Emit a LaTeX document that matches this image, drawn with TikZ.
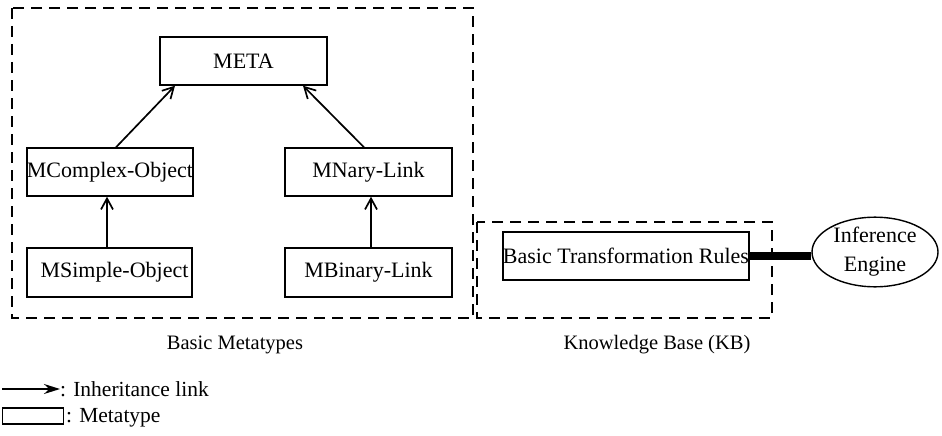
\documentclass[tikz,border=0pt]{standalone}
\usepackage{fontspec}
\setmainfont{Liberation Serif}
\usetikzlibrary{arrows.meta,shapes.geometric}
\begin{document}
\begin{tikzpicture}[x=1pt,y=-1pt,
  mbox/.style={draw,line width=1.4pt,inner sep=0pt,minimum height=48pt,font=\fontsize{22}{24}\selectfont},
  grp/.style={draw,line width=1.7pt,dash pattern=on 11pt off 7pt},
  inh/.style={line width=1.7pt,-{Straight Barb[length=11pt,width=12pt,line width=1.7pt]}},
  lbl/.style={inner sep=0pt,font=\fontsize{20.5}{22}\selectfont},
  leg/.style={inner sep=0pt,anchor=west,font=\fontsize{21.5}{23}\selectfont}]
\useasboundingbox (0,0) rectangle (942,436);
% group boxes
\draw[grp] (12,8) rectangle (473,318);
\draw[grp] (477,222) rectangle (772,318);
% metatype boxes
\node[mbox,minimum width=167pt] (meta) at (243.5,61) {META};
\node[mbox,minimum width=166pt] (cplx) at (110,172) {MComplex-Object};
\node[mbox,minimum width=167pt] (nary) at (368.5,172) {MNary-Link};
\node[mbox,minimum width=165pt,minimum height=49pt] (simp) at (109.5,272.5) {\hspace*{10pt}MSimple-Object};
\node[mbox,minimum width=167pt,minimum height=49pt] (bin) at (368.5,272.5) {MBinary-Link};
\node[mbox,minimum width=246pt] (btr) at (626,256) {Basic Transformation Rules};
\node[draw,ellipse,line width=1.4pt,minimum width=126pt,minimum height=54pt,inner sep=0pt,
      align=center,font=\fontsize{22}{29}\selectfont] (ie) at (875,252) {Inference\\Engine};
% inheritance links
\draw[inh] ([xshift=6pt]cplx.north) -- ([xshift=-68.5pt]meta.south);
\draw[inh] ([xshift=-4.5pt]nary.north) -- ([xshift=59.5pt]meta.south);
\draw[inh] ([xshift=-2.5pt]simp.north) -- ([xshift=-3pt]cplx.south);
\draw[inh] ([xshift=2.5pt]bin.north) -- ([xshift=2.5pt]nary.south);
% thick connection
\draw[line width=7.5pt] (btr.east) -- (ie.west |- btr.east);
% group labels
\node[lbl] (l1) at (235,345) {Basic Metatypes};
\node[lbl] (l2) at (657,345) {Knowledge Base (KB)};
% legend
\coordinate (a0) at (2,389);
\node[leg] (t1) at (60,389) {: Inheritance link};
\draw[line width=1.7pt,-{Stealth[length=16pt,width=10pt]}] (a0) -- (t1.west);
\node[draw,line width=1.4pt,minimum width=61pt,minimum height=16pt,inner sep=0pt] (r) at (33,416) {};
\node[leg] (t2) at (66,418) {: Metatype};
\end{tikzpicture}
\end{document}
